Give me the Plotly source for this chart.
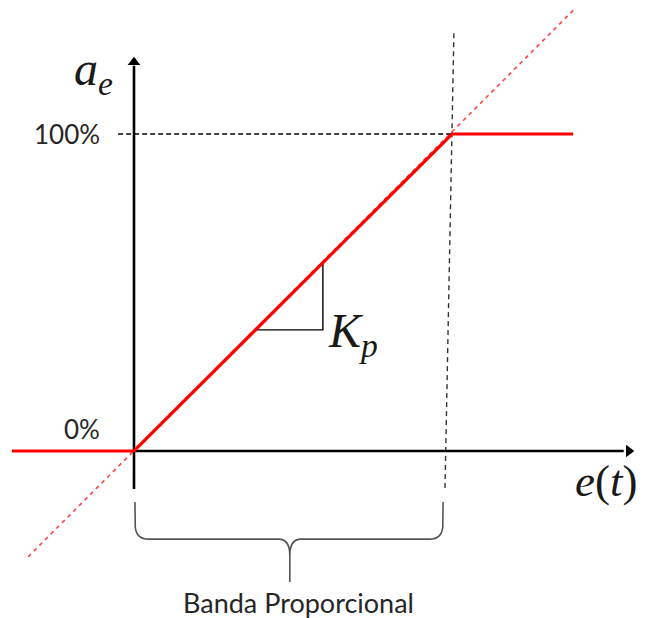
import plotly.graph_objects as go

# ---- data (chart units: e in % of proportional band, a_e in %) ----
resp_x = [-38.4, 0, 100, 138.1]          # saturated proportional response
resp_y = [0, 0, 100, 100]
ideal_x = [-33.3, 138.1]                 # unsaturated ideal line (slope Kp)
ideal_y = [-33.4, 139.0]
ref100_x = [-5.0, 100]                   # 100% reference
ref100_y = [100, 100]
band_end_x = [100.6, 97.8]               # end of proportional band
band_end_y = [131.8, -11.7]
kp_x = [38.4, 59.4, 59.4]                # slope triangle
kp_y = [38.2, 38.2, 59.6]
xaxis_x = [0, 154.0]                     # e(t) axis
xaxis_y = [0, 0]
yaxis_x = [0, 0]                         # a_e axis
yaxis_y = [-12.0, 121.5]
head_x = [155.6, 0]                      # arrowhead centres
head_y = [0, 122.6]
head_sym = ["triangle-right", "triangle-up"]
y_ticks = ["100%", "0%"]
y_tick_vals = [100, 0]

X0, X1 = -134 / 3.18, 512 / 3.18
Y0, Y1 = -167 / 3.17, 451 / 3.17

fig = go.Figure()
fig.add_trace(go.Scatter(x=ideal_x, y=ideal_y, mode="lines",
                         line=dict(color="rgb(255,70,70)", width=1.6, dash="4px,4px"),
                         hoverinfo="skip"))
fig.add_trace(go.Scatter(x=ref100_x, y=ref100_y, mode="lines",
                         line=dict(color="black", width=1.3, dash="5px,3px"),
                         hoverinfo="skip"))
fig.add_trace(go.Scatter(x=band_end_x, y=band_end_y, mode="lines",
                         line=dict(color="#333", width=1.4, dash="5px,4px"),
                         hoverinfo="skip"))
fig.add_trace(go.Scatter(x=kp_x, y=kp_y, mode="lines",
                         line=dict(color="black", width=1.4), hoverinfo="skip"))

for ax_x, ax_y in [(xaxis_x, xaxis_y), (yaxis_x, yaxis_y)]:
    fig.add_trace(go.Scatter(x=ax_x, y=ax_y, mode="lines",
                             line=dict(color="black", width=2.6), hoverinfo="skip"))
fig.add_trace(go.Scatter(x=head_x, y=head_y, mode="markers",
                         marker=dict(symbol=head_sym, size=11, color="black",
                                     line=dict(width=0)),
                         hoverinfo="skip"))

fig.add_trace(go.Scatter(x=resp_x, y=resp_y, mode="lines",
                         line=dict(color="#ff0000", width=3.2), hoverinfo="skip"))

annotations = []
# tick labels
for lab, v, dy in zip(y_ticks, y_tick_vals, [0, 7.0]):
    annotations.append(dict(x=-10.0, y=v + dy, xref="x", yref="y", text=lab, showarrow=False,
                            xanchor="right", yanchor="middle",
                            font=dict(family="Lato", size=26, color="#262626")))

math_font = dict(family="Liberation Serif", size=48, color="#1a1a1a")
annotations.append(dict(x=-6.0, y=119.5, xref="x", yref="y",
                        text="<i>a</i><sub><i>e</i></sub>", showarrow=False,
                        xanchor="right", yanchor="middle", font=math_font))
annotations.append(dict(x=60.5, y=37.0, xref="x", yref="y",
                        text="<i>K</i><sub><i>p</i></sub>", showarrow=False,
                        xanchor="left", yanchor="middle", font=math_font))
annotations.append(dict(x=160.0, y=-9.5, xref="x", yref="y",
                        text="<i>e</i>(<i>t</i>)", showarrow=False,
                        xanchor="right", yanchor="middle",
                        font=dict(family="Liberation Serif", size=45, color="#1a1a1a"), xshift=-3))
annotations.append(dict(x=51.6, y=-47.8, xref="x", yref="y",
                        text="Banda Proporcional", showarrow=False,
                        xanchor="center", yanchor="middle",
                        font=dict(family="Lato", size=27, color="#262626")))

# curly brace under the band
brace = ("M 0.3,-16.1 L 0.4,-24 Q 0.8,-27.8 4.5,-27.8 L 45.5,-27.8 Q 49,-27.8 49,-33 L 49,-41.3 "
         "M 97.2,-16.1 L 97.1,-24 Q 96.7,-27.8 93,-27.8 L 52.5,-27.8 Q 49,-27.8 49,-33")
fig.add_shape(type="path", path=brace, xref="x", yref="y",
              line=dict(color="#555", width=1.6))

fig.update_layout(width=646, height=618, margin=dict(l=0, r=0, t=0, b=0),
                  paper_bgcolor="white", plot_bgcolor="white", showlegend=False,
                  annotations=annotations,
                  xaxis=dict(range=[X0, X1], visible=False, fixedrange=True),
                  yaxis=dict(range=[Y0, Y1], visible=False, fixedrange=True))
fig.write_html("out.html", config={"displayModeBar": False},
               post_script="document.body.style.margin='0';document.body.style.padding='0';"
                           "document.body.style.overflow='hidden';")
